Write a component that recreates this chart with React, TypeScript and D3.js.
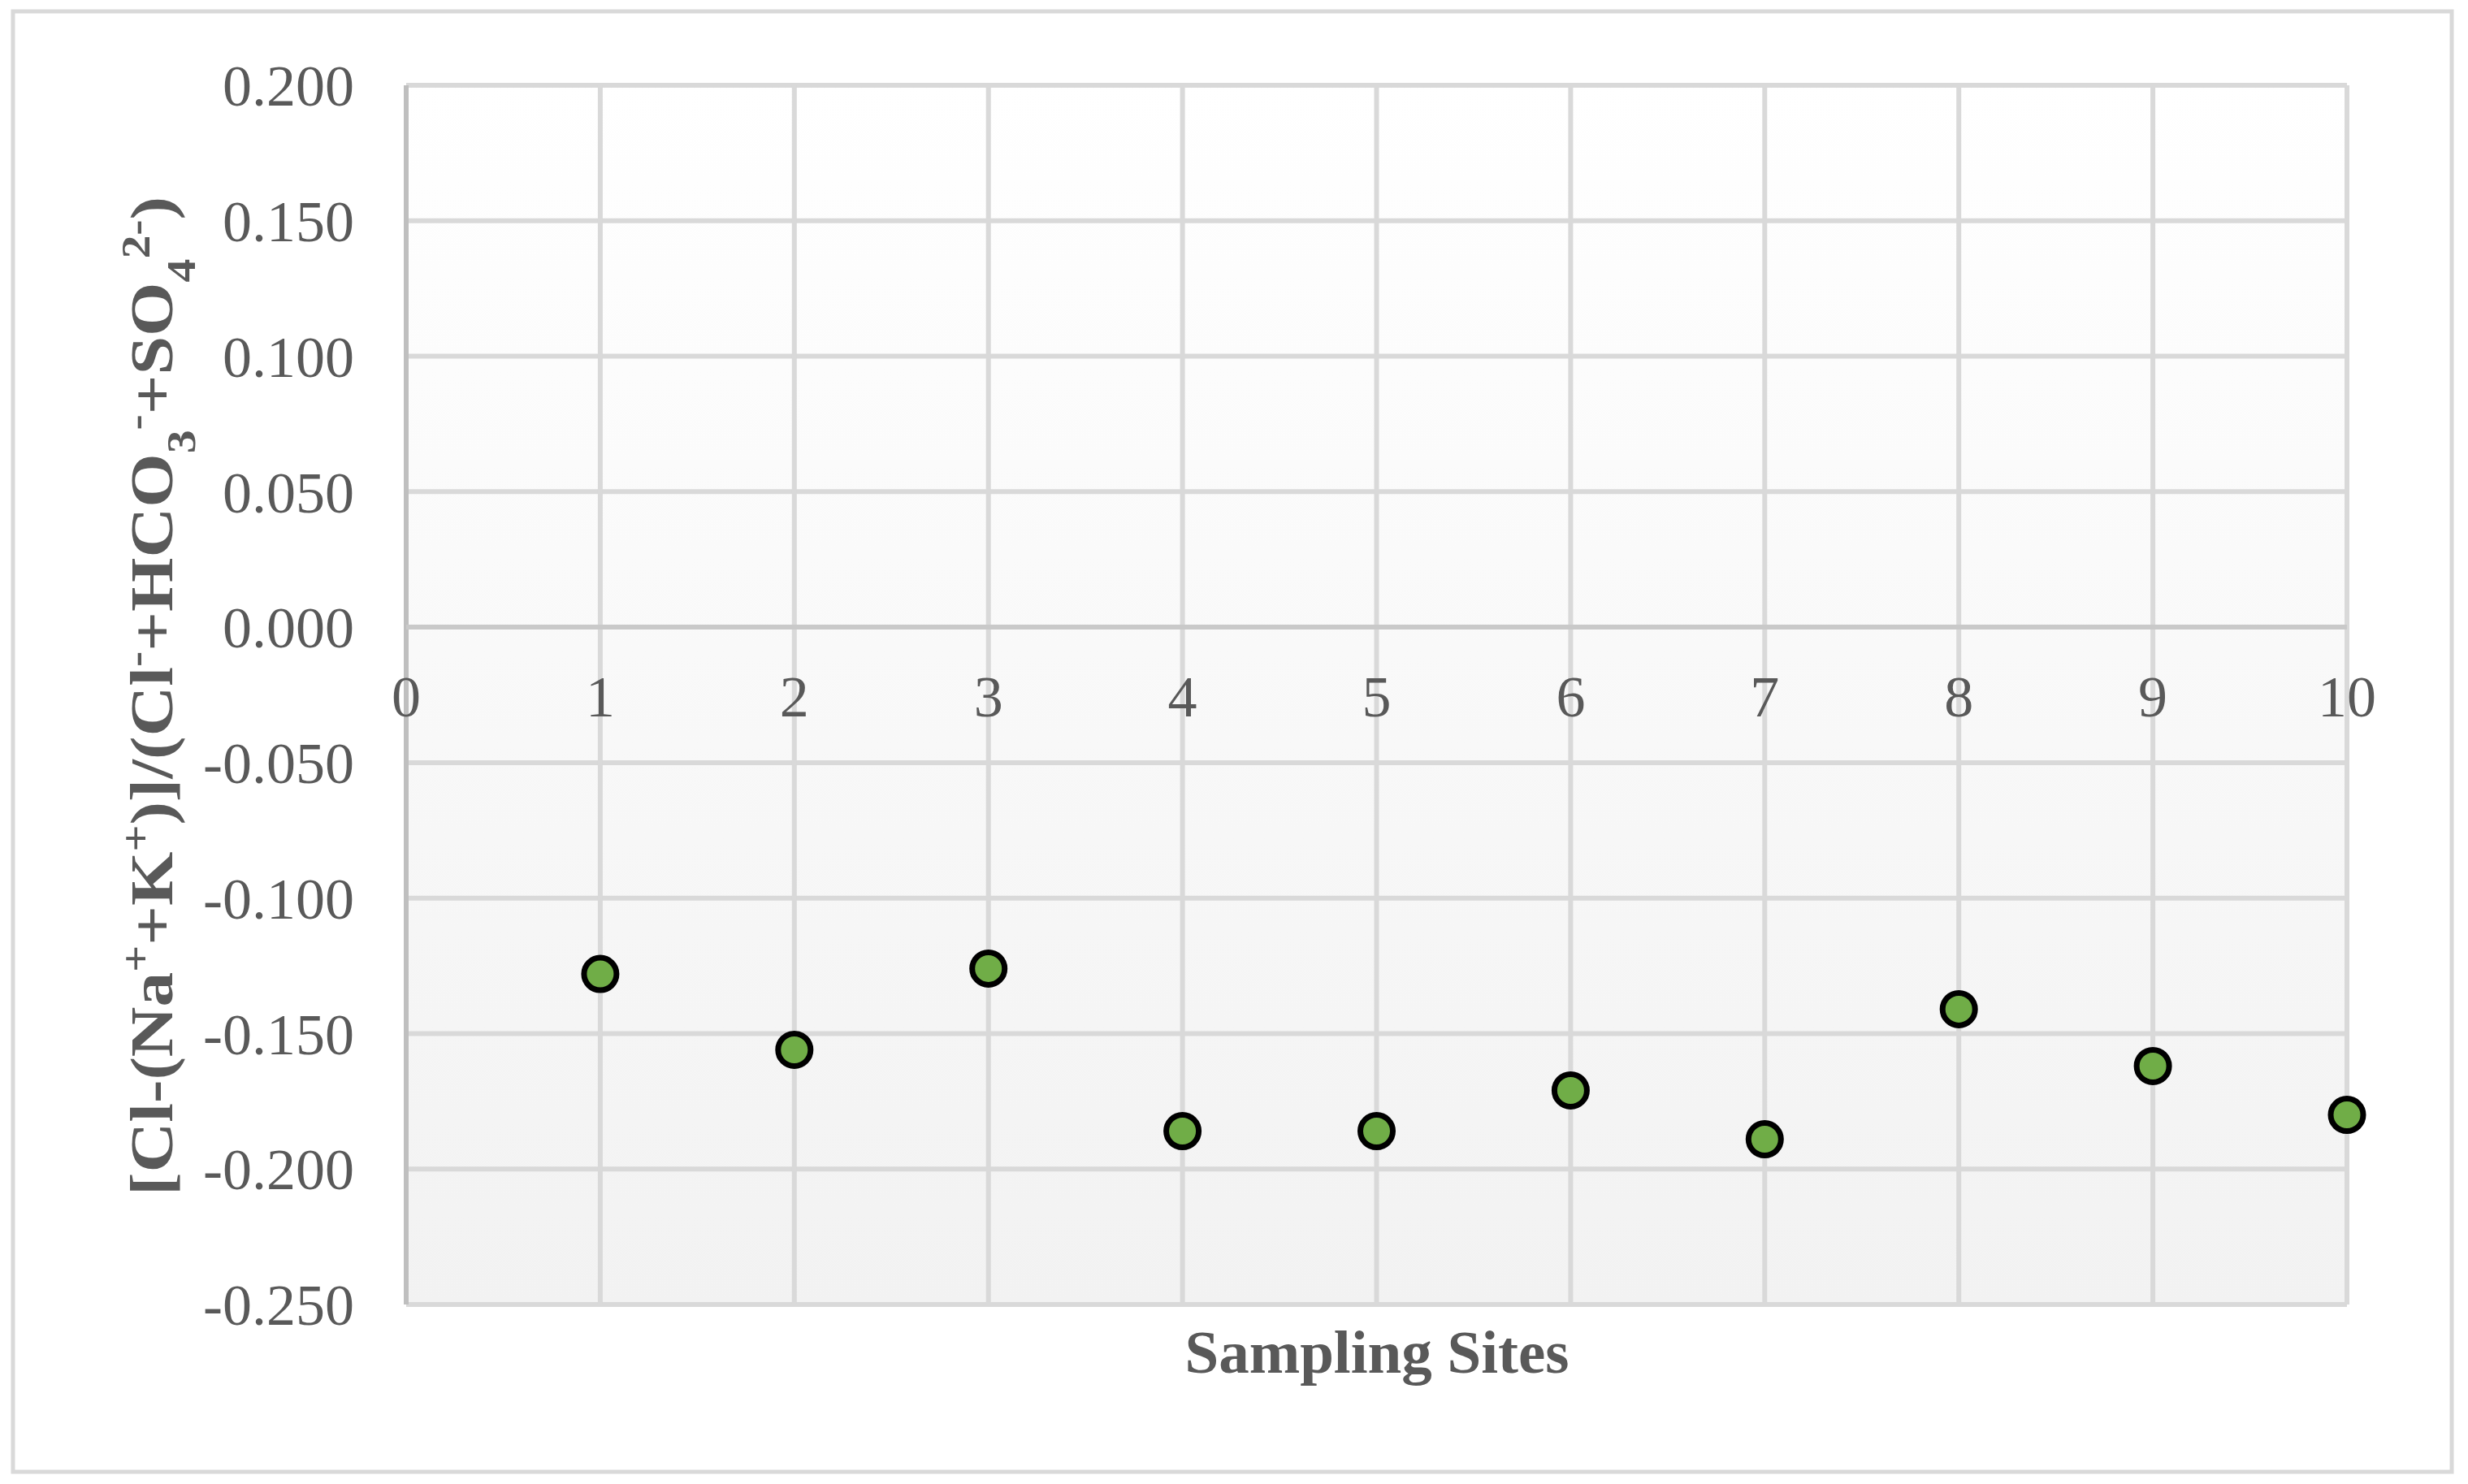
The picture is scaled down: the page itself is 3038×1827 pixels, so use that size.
import React from "react";
import * as d3 from "d3";

const sites = [1, 2, 3, 4, 5, 6, 7, 8, 9, 10];
const ratios = [-0.128, -0.156, -0.126, -0.186, -0.186, -0.171, -0.189, -0.141, -0.162, -0.180];
const yTicks = [0.2, 0.15, 0.1, 0.05, 0, -0.05, -0.1, -0.15, -0.2, -0.25];
const xTicks = [0, 1, 2, 3, 4, 5, 6, 7, 8, 9, 10];

const W = 3038;
const H = 1827;
const M = { left: 500, right: 2889, top: 105, bottom: 1606 };
const FONT = "'Liberation Serif', 'Times New Roman', serif";
const TXT = "#595959";

export default function App() {
  const x = d3.scaleLinear().domain([0, 10]).range([M.left, M.right]);
  const y = d3.scaleLinear().domain([-0.25, 0.2]).range([M.bottom, M.top]);
  const fmt = (v: number) => d3.format(".3f")(v).replace("\u2212", "-");
  const fs = 72;
  const sfs = 50;
  return (
    <svg width={W} height={H} style={{ position: "absolute", left: 0, top: 0, background: "#fff" }}>
      <defs>
        <linearGradient id="bg" x1="0" y1="0" x2="0" y2="1">
          <stop offset="0" stopColor="#ffffff" />
          <stop offset="1" stopColor="#f2f2f2" />
        </linearGradient>
      </defs>
      <rect x={16} y={14} width={3002} height={1798} fill="#fff" stroke="#d9d9d9" strokeWidth={5} />
      <rect x={M.left} y={M.top} width={M.right - M.left} height={M.bottom - M.top} fill="url(#bg)" />
      {yTicks.map((t) => (
        <line key={"gy" + t} x1={M.left} x2={M.right} y1={y(t)} y2={y(t)} stroke="#d9d9d9" strokeWidth={6} />
      ))}
      {xTicks.map((t) => (
        <line key={"gx" + t} x1={x(t)} x2={x(t)} y1={M.top} y2={M.bottom} stroke={t === 0 ? "#bfbfbf" : "#d9d9d9"} strokeWidth={6} />
      ))}
      <line x1={M.left} x2={M.right} y1={y(0)} y2={y(0)} stroke="#c9c9c9" strokeWidth={6} />
      {yTicks.map((t) => (
        <text key={"ly" + t} x={436} y={y(t)} dy="0.35em" textAnchor="end" fontFamily={FONT} fontSize={fs} fill={TXT}>
          {fmt(t)}
        </text>
      ))}
      {xTicks.map((t) => (
        <text key={"lx" + t} x={x(t)} y={882} textAnchor="middle" fontFamily={FONT} fontSize={fs} fill={TXT}>
          {t}
        </text>
      ))}
      {sites.map((s, i) => (
        <circle key={"p" + s} cx={x(s)} cy={y(ratios[i])} r={20} fill="#70ad47" stroke="#000" strokeWidth={7} />
      ))}
      <text x={1695} y={1690} textAnchor="middle" fontFamily={FONT} fontSize={75} fontWeight="bold" fill={TXT}>
        Sampling Sites
      </text>
      <text
        transform={`translate(212, 857) rotate(-90)`}
        textAnchor="middle"
        fontFamily={FONT}
        fontSize={74}
        fontWeight="bold"
        fill={TXT}
        textLength={1230}
        lengthAdjust="spacingAndGlyphs"
      >
        <tspan>[Cl-(Na</tspan>
        <tspan baselineShift="super" fontSize={sfs}>+</tspan>
        <tspan>+K</tspan>
        <tspan baselineShift="super" fontSize={sfs}>+</tspan>
        <tspan>)]/(Cl</tspan>
        <tspan baselineShift="super" fontSize={sfs}>-</tspan>
        <tspan>+HCO</tspan>
        <tspan baselineShift="sub" fontSize={sfs}>3</tspan>
        <tspan baselineShift="super" fontSize={sfs}>-</tspan>
        <tspan>+SO</tspan>
        <tspan baselineShift="sub" fontSize={sfs}>4</tspan>
        <tspan baselineShift="super" fontSize={sfs}>2-</tspan>
        <tspan>)</tspan>
      </text>
    </svg>
  );
}
